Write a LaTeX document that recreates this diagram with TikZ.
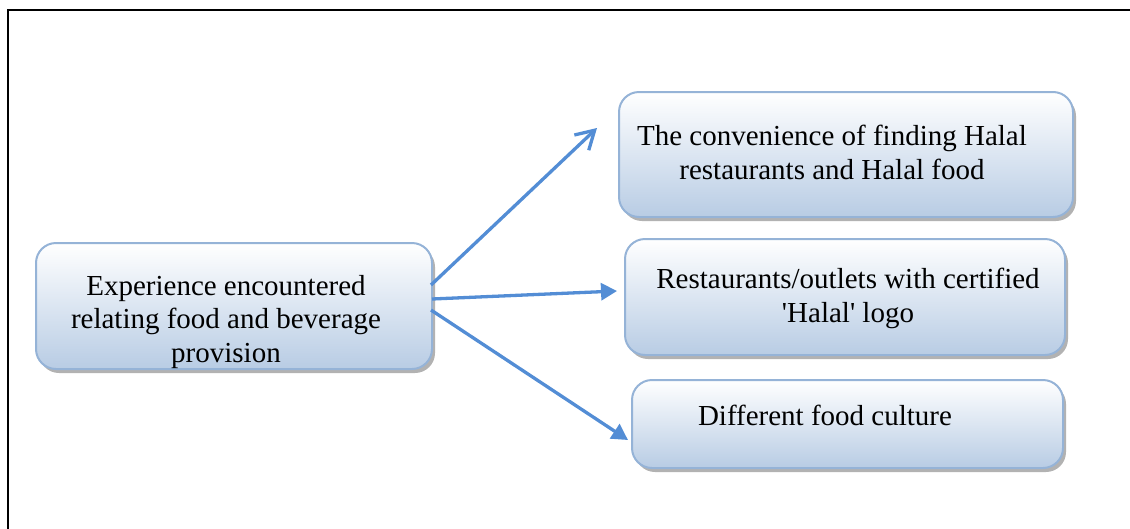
\documentclass[tikz,border=0pt]{standalone}
\usepackage{fontspec}
\setmainfont{Liberation Serif}[Ligatures=TeXOff]
\usetikzlibrary{shadows,arrows.meta,calc}
\definecolor{boxbot}{RGB}{184,204,228}
\definecolor{boxline}{RGB}{149,179,215}
\definecolor{arrowblue}{RGB}{83,141,213}
\tikzset{
  box/.style={draw=boxline, line width=2pt, rounded corners=20pt,
    top color=white, bottom color=boxbot, inner sep=0pt,
    drop shadow={shadow xshift=3pt, shadow yshift=-4pt, fill=black!55, opacity=0.55}},
  label/.style={align=center, anchor=base, inner sep=0pt,
    font=\fontsize{29}{33.5}\selectfont},
  conn/.style={draw=arrowblue, line width=3.3pt},
  openhead/.style={conn, -{Straight Barb[length=18pt,width=21pt,line width=3.3pt]}},
  fillhead/.style={conn, -{Triangle[length=16pt,width=17pt]}},
}
\begin{document}
\begin{tikzpicture}[x=1pt,y=-1pt]
\useasboundingbox (0,0) rectangle (1130,528);
% frame
\draw[line width=2.2pt] (8,540) -- (8,10) -- (1140,10);
% boxes
\node[box, minimum width=396pt, minimum height=126pt] (L) at (234,306) {};
\node[box, minimum width=454pt, minimum height=125pt] (T) at (846,154.5) {};
\node[box, minimum width=440pt, minimum height=116pt] (M) at (845,297) {};
\node[box, minimum width=431pt, minimum height=88pt] (B) at (847.5,424) {};
% texts (base = baseline of last line)
\node[label] (Lt) at (226,362) {Experience encountered\\relating food and beverage\\provision};
\node[label] (Tt) at (832,179) {The convenience of finding Halal\\restaurants and Halal food};
\node[label] (Mt) at (848,322) {Restaurants/outlets with certified\\'Halal' logo};
\node[label] (Bt) at (825,425) {Different food culture};
% arrow ends
\coordinate (s1) at (431,285);
\coordinate (s2) at (432,299);
\coordinate (s3) at (431,310);
\coordinate (e1) at (597,128);
\coordinate (e2) at (617,291);
\coordinate (e3) at (628,440);
\draw[openhead] (s1) -- (e1);
\draw[fillhead] (s2) -- (e2);
\draw[fillhead] (s3) -- (e3);
\end{tikzpicture}
\end{document}
